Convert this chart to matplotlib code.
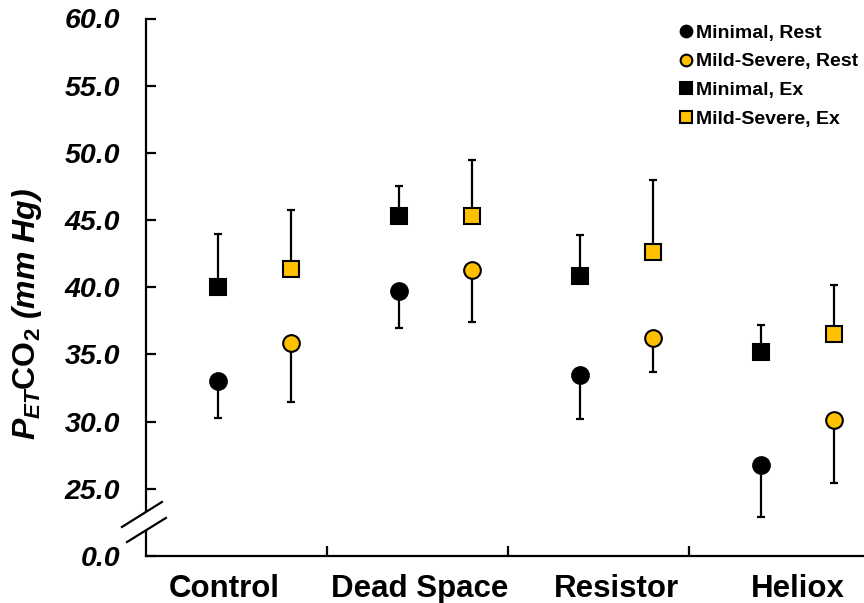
import matplotlib
matplotlib.use("Agg")
import matplotlib.pyplot as plt
import numpy as np

plt.rcParams['font.family'] = ['Liberation Sans', 'DejaVu Sans']
plt.rcParams['mathtext.fontset'] = 'custom'
plt.rcParams['mathtext.rm'] = 'Liberation Sans:bold'
plt.rcParams['mathtext.it'] = 'Liberation Sans:bold:italic'
plt.rcParams['mathtext.bf'] = 'Liberation Sans:bold'

categories = ['Control', 'Dead Space', 'Resistor', 'Heliox']
minimal_rest = [33.0, 39.7, 33.5, 26.8]
minimal_rest_err = [2.75, 2.75, 3.3, 3.9]
mild_rest = [35.85, 41.25, 36.25, 30.15]
mild_rest_err = [4.4, 3.8, 2.55, 4.7]
minimal_ex = [40.0, 45.3, 40.85, 35.2]
minimal_ex_err = [4.0, 2.25, 3.05, 2.0]
mild_ex = [41.35, 45.3, 42.65, 36.5]
mild_ex_err = [4.4, 4.15, 5.3, 3.65]

ytick_vals = [20, 25, 30, 35, 40, 45, 50, 55, 60]
ytick_labels = ['0.0', '25.0', '30.0', '35.0', '40.0', '45.0', '50.0', '55.0', '60.0']

gold = '#FFC000'

fig = plt.figure(figsize=(8.64, 6.03), dpi=100)
ax = fig.add_axes([146/864, (603-556)/603, (864-146)/864, (556-18.5)/603])

centers = np.arange(len(categories)) + 0.5
x_min = centers - 0.10
x_mild = centers + 0.30
label_pos = [0.43, 1.51, 2.60, 3.60]
zeros = np.zeros(len(categories))

eb_kw = dict(fmt='none', ecolor='black', elinewidth=1.6, capsize=2.6, capthick=1.6, zorder=2)
ax.errorbar(x_min, minimal_rest, yerr=[minimal_rest_err, zeros], **eb_kw)
ax.errorbar(x_mild, mild_rest, yerr=[mild_rest_err, zeros], **eb_kw)
ax.errorbar(x_min, minimal_ex, yerr=[zeros, minimal_ex_err], **eb_kw)
ax.errorbar(x_mild, mild_ex, yerr=[zeros, mild_ex_err], **eb_kw)

mk_kw = dict(linestyle='none', markersize=12, markeredgecolor='black', markeredgewidth=1.5, zorder=3)
h1, = ax.plot(x_min, minimal_rest, marker='o', markerfacecolor='black', label='Minimal, Rest', **mk_kw)
h2, = ax.plot(x_mild, mild_rest, marker='o', markerfacecolor=gold, label='Mild-Severe, Rest', **mk_kw)
h3, = ax.plot(x_min, minimal_ex, marker='s', markerfacecolor='black', label='Minimal, Ex', **mk_kw)
h4, = ax.plot(x_mild, mild_ex, marker='s', markerfacecolor=gold, label='Mild-Severe, Ex', **mk_kw)

ax.set_xlim(0, 718/181)
ax.set_ylim(20, 60)

for s in ['top', 'right']:
    ax.spines[s].set_visible(False)
for s in ['left', 'bottom']:
    ax.spines[s].set_linewidth(1.6)

ax.set_yticks(ytick_vals)
ax.set_yticklabels(ytick_labels, fontsize=20.5, fontweight='bold', fontstyle='italic')
ax.tick_params(axis='y', direction='in', length=7, width=1.6, pad=18.5)

ax.set_xticks([1, 2, 3])
ax.set_xticklabels([])
ax.tick_params(axis='x', direction='in', length=7, width=1.6)
ax.set_xticks(label_pos, minor=True)
ax.set_xticklabels(categories, minor=True, fontsize=22.5, fontweight='bold')
ax.tick_params(axis='x', which='minor', length=0, pad=13)

# axis break marks
brk_x1 = [-0.133, 0.088]
brk_y1 = [22.16, 24.02]
brk_x2 = [-0.105, 0.110]
brk_y2 = [21.04, 22.83]
ax.fill([brk_x1[0], brk_x1[1], brk_x2[1], brk_x2[0]],
        [brk_y1[0], brk_y1[1], brk_y2[1], brk_y2[0]],
        color='white', zorder=5, clip_on=False)
ax.plot(brk_x1, brk_y1, color='black', lw=1.6, clip_on=False, zorder=6)
ax.plot(brk_x2, brk_y2, color='black', lw=1.6, clip_on=False, zorder=6)

fig.text(27.5/864, 1 - 314/603, r'$P_{ET}\mathrm{CO}_{2}$ (mm Hg)', rotation=90,
         ha='center', va='center', fontsize=23, fontweight='bold', fontstyle='italic')

leg = ax.legend(handles=[h1, h2, h3, h4], loc='upper right', bbox_to_anchor=(1.003, 1.004),
                frameon=False, prop={'weight': 'bold', 'size': 14}, handlelength=0.6,
                handletextpad=0.25, labelspacing=0.57, markerscale=0.7, borderaxespad=0.0)

fig.savefig('out.png', dpi=100)
